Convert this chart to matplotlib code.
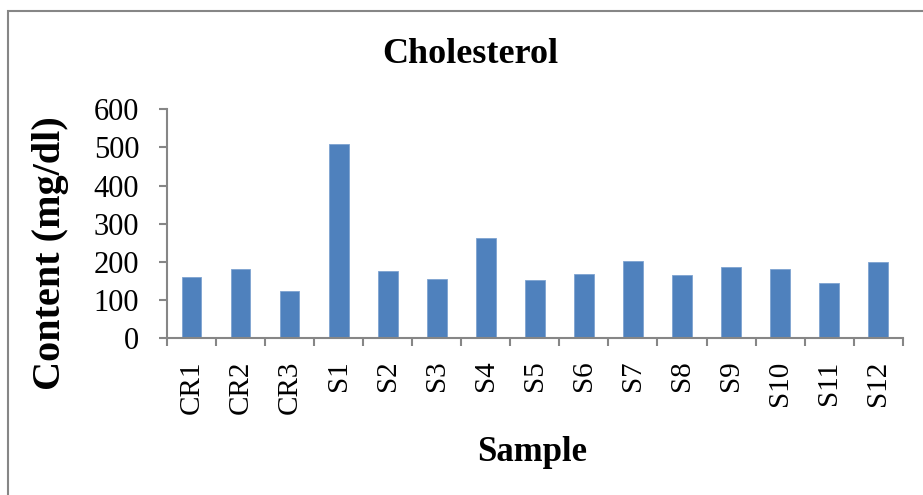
import matplotlib
matplotlib.use("Agg")
import matplotlib.pyplot as plt
from matplotlib.patches import Rectangle

samples = ["CR1", "CR2", "CR3", "S1", "S2", "S3", "S4", "S5", "S6", "S7",
           "S8", "S9", "S10", "S11", "S12"]
cholesterol = [161, 181, 125, 509, 176, 156, 262, 153, 168, 202,
               165, 186, 182, 146, 199]
y_ticks = [0, 100, 200, 300, 400, 500, 600]

plt.rcParams["font.family"] = ["Liberation Serif", "DejaVu Serif"]

fig = plt.figure(figsize=(9.23, 4.95), dpi=100)
ax = fig.add_axes([0.181, 0.3166, 0.797, 0.4626])

x = range(len(samples))
ax.bar(x, cholesterol, width=0.4, color="#4F81BD", edgecolor="#7EA3D1", linewidth=0.6)

ax.set_xlim(-0.5, len(samples) - 0.5)
ax.set_ylim(0, 600)
ax.set_yticks(y_ticks)
ax.set_xticks(list(x))
ax.set_xticklabels(samples, rotation=90, va="top", ha="center")
ax.set_xticks([i + 0.5 for i in range(-1, len(samples))], minor=True)

axis_col = "#868686"
for side in ["top", "right"]:
    ax.spines[side].set_visible(False)
for side in ["left", "bottom"]:
    ax.spines[side].set_color(axis_col)
    ax.spines[side].set_linewidth(1.5)

ax.tick_params(axis="x", which="major", length=0, pad=16, labelsize=21)
ax.tick_params(axis="x", which="minor", length=6, width=1.5, color=axis_col)
ax.tick_params(axis="y", length=6, width=1.5, color=axis_col, pad=14, labelsize=22)

fig.text(0.51, 0.889, "Cholesterol", ha="center", va="center",
         fontsize=26, fontweight="bold")
fig.text(0.577, 0.085, "Sample", ha="center", va="center",
         fontsize=25, fontweight="bold")
fig.text(0.055, 0.489, "Content (mg/dl)", ha="center", va="center",
         rotation=90, fontsize=29, fontweight="bold")

# chart border
fig.patches.append(Rectangle((8 / 923, -0.1), 1.2, 1.1 - 11 / 495,
                             transform=fig.transFigure, fill=False,
                             edgecolor=axis_col, linewidth=1.5))

fig.savefig("out.png", dpi=100)
